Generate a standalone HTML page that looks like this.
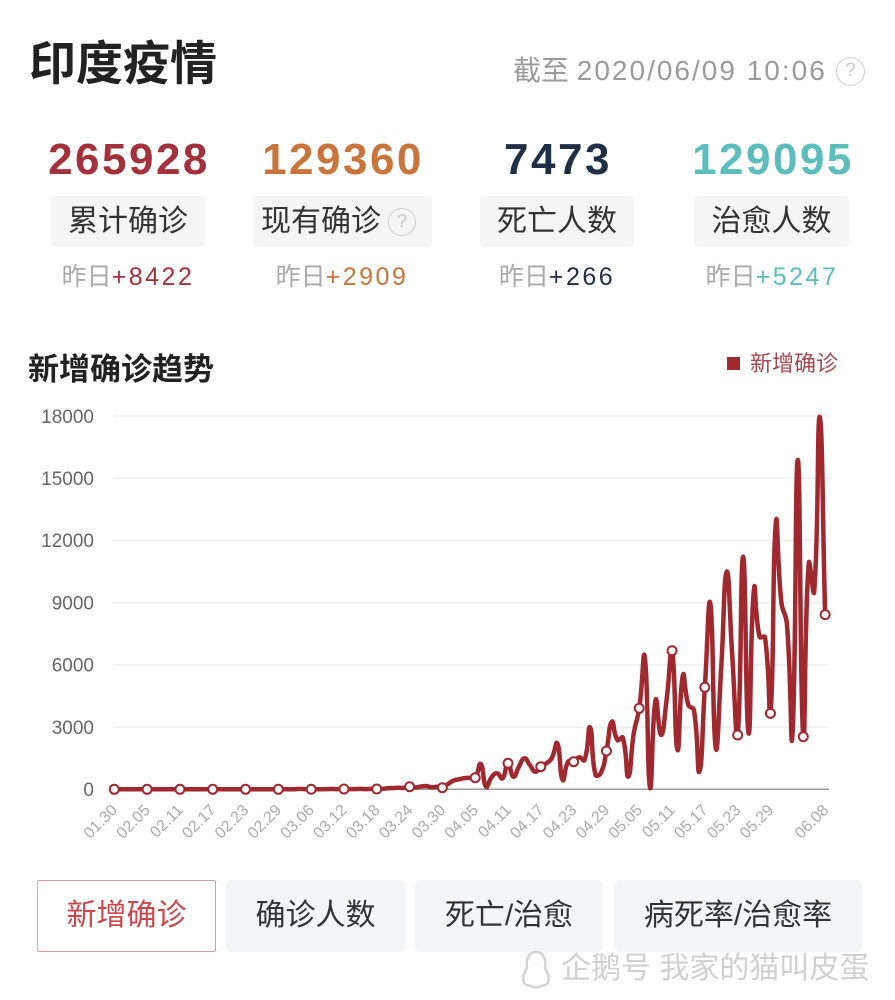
<!DOCTYPE html>
<html><head><meta charset="utf-8">
<style>
html,body{margin:0;padding:0}
body{width:895px;height:1000px;background:#fff;position:relative;overflow:hidden;font-family:"Liberation Sans","Noto Sans CJK SC",sans-serif}
.a{position:absolute;white-space:nowrap}
.num{font-weight:bold;font-size:44px;line-height:50px;top:135px;width:220px;text-align:center;letter-spacing:2.5px;padding-left:2px}
.box{top:196px;height:51px;background:#f5f5f5;border-radius:5px;font-size:30px;line-height:51px;color:#333;text-align:center}
.yd{top:260px;width:220px;text-align:center;font-size:25px;line-height:34px;color:#aaa}
.yd b{font-weight:normal;letter-spacing:2.5px}
.btn{top:880px;height:72px;font-size:30px;line-height:72px;text-align:center;color:#333;background:#f4f5f7;border-radius:6px}
.q{border:1.5px solid #cfcfcf;border-radius:50%;color:#c8c8c8;text-align:center;box-sizing:border-box}
</style></head>
<body>
<div class="a" style="left:29px;top:36px;font-size:47px;line-height:56px;font-weight:bold;color:#222">印度疫情</div>
<div class="a" style="left:513px;top:54px;font-size:28px;line-height:34px;color:#9a9a9a">截至 <span style="letter-spacing:2px">2020/06/09 10:06</span></div>
<div class="a q" style="left:836px;top:57px;width:29px;height:29px;font-size:19px;line-height:26px">?</div>

<div class="a num" style="left:17px;color:#a2313b">265928</div>
<div class="a num" style="left:231px;color:#c8743a">129360</div>
<div class="a num" style="left:446px;color:#1f2f45">7473</div>
<div class="a num" style="left:661px;color:#5cbdbd">129095</div>

<div class="a box" style="left:51px;width:154px">累计确诊</div>
<div class="a box" style="left:253px;width:179px"><span style="position:absolute;left:8px;top:0">现有确诊</span><div class="a q" style="left:135px;top:12px;width:28px;height:28px;font-size:18px;line-height:25px">?</div></div>
<div class="a box" style="left:480px;width:154px">死亡人数</div>
<div class="a box" style="left:694px;width:155px">治愈人数</div>

<div class="a yd" style="left:18px">昨日<b style="color:#a2313b">+8422</b></div>
<div class="a yd" style="left:232px">昨日<b style="color:#c8743a">+2909</b></div>
<div class="a yd" style="left:447px">昨日<b style="color:#1f2f45">+266</b></div>
<div class="a yd" style="left:662px">昨日<b style="color:#5cbdbd">+5247</b></div>

<div class="a" style="left:28px;top:350px;font-size:31px;line-height:40px;font-weight:bold;color:#222">新增确诊趋势</div>

<svg class="a" style="left:0;top:0" width="895" height="860" xmlns="http://www.w3.org/2000/svg">
<rect x="727" y="357" width="13" height="13" fill="#a0292f"/>
<text x="750" y="371" font-size="22" fill="#a5484e" font-family="Liberation Sans, Noto Sans CJK SC, sans-serif">新增确诊</text>
<g stroke="#ededed" stroke-width="1.5">
<line x1="113" y1="416" x2="829" y2="416"/>
<line x1="113" y1="478.2" x2="829" y2="478.2"/>
<line x1="113" y1="540.4" x2="829" y2="540.4"/>
<line x1="113" y1="602.7" x2="829" y2="602.7"/>
<line x1="113" y1="664.9" x2="829" y2="664.9"/>
<line x1="113" y1="727.1" x2="829" y2="727.1"/>
</g>
<line x1="113" y1="789.3" x2="829" y2="789.3" stroke="#9a9a9a" stroke-width="1.5"/>
<g font-size="19" fill="#666" text-anchor="end" font-family="Liberation Sans, sans-serif">
<text x="94" y="422.8">18000</text>
<text x="94" y="485">15000</text>
<text x="94" y="547.2">12000</text>
<text x="94" y="609.5">9000</text>
<text x="94" y="671.7">6000</text>
<text x="94" y="733.9">3000</text>
<text x="94" y="796.1">0</text>
</g>
<g font-size="16" fill="#aaa" text-anchor="end" font-family="Liberation Sans, sans-serif">
<text x="118.3" y="811" transform="rotate(-45 118.3 811)">01.30</text>
<text x="151.1" y="811" transform="rotate(-45 151.1 811)">02.05</text>
<text x="183.9" y="811" transform="rotate(-45 183.9 811)">02.11</text>
<text x="216.7" y="811" transform="rotate(-45 216.7 811)">02.17</text>
<text x="249.5" y="811" transform="rotate(-45 249.5 811)">02.23</text>
<text x="282.3" y="811" transform="rotate(-45 282.3 811)">02.29</text>
<text x="315.1" y="811" transform="rotate(-45 315.1 811)">03.06</text>
<text x="347.9" y="811" transform="rotate(-45 347.9 811)">03.12</text>
<text x="380.8" y="811" transform="rotate(-45 380.8 811)">03.18</text>
<text x="413.6" y="811" transform="rotate(-45 413.6 811)">03.24</text>
<text x="446.4" y="811" transform="rotate(-45 446.4 811)">03.30</text>
<text x="479.2" y="811" transform="rotate(-45 479.2 811)">04.05</text>
<text x="512" y="811" transform="rotate(-45 512 811)">04.11</text>
<text x="544.8" y="811" transform="rotate(-45 544.8 811)">04.17</text>
<text x="577.6" y="811" transform="rotate(-45 577.6 811)">04.23</text>
<text x="610.4" y="811" transform="rotate(-45 610.4 811)">04.29</text>
<text x="643.2" y="811" transform="rotate(-45 643.2 811)">05.05</text>
<text x="676" y="811" transform="rotate(-45 676 811)">05.11</text>
<text x="708.8" y="811" transform="rotate(-45 708.8 811)">05.17</text>
<text x="741.7" y="811" transform="rotate(-45 741.7 811)">05.23</text>
<text x="774.5" y="811" transform="rotate(-45 774.5 811)">05.29</text>
<text x="829.5" y="811" transform="rotate(-45 829.5 811)">06.08</text>
</g>
<path id="ln" d="" fill="none" stroke="#a0292f" stroke-width="4.5" stroke-linejoin="round" stroke-linecap="round"/>
<g id="mk" fill="#fff" stroke="#a0292f" stroke-width="2"></g>
</svg>

<div class="a btn" style="left:37px;width:177px;height:70px;line-height:70px;background:#fff;border:1px solid #dc9c9e;border-radius:2px;color:#c9474d">新增确诊</div>
<div class="a btn" style="left:226px;width:179px">确诊人数</div>
<div class="a btn" style="left:415px;width:188px">死亡/治愈</div>
<div class="a btn" style="left:614px;width:248px">病死率/治愈率</div>

<svg class="a" style="left:519px;top:948px" width="34" height="44" viewBox="0 0 34 44"><path d="M17 4 C9 4 7 12 8 20 C4 26 3 32 6 36 C9 38 12 37 14 39 L20 39 C22 37 25 38 28 36 C31 32 30 26 26 20 C27 12 25 4 17 4 Z" fill="none" stroke="#d3d3d3" stroke-width="2.4"/></svg>
<div class="a" style="left:561px;top:950px;font-size:30px;line-height:38px;color:#d0d0d0">企鹅号 我家的猫叫皮蛋</div>

<script>
(function(){
var v=new Array(33).fill(0).concat([2,22,1,2,3,5,9,15,6,12,11,9,20,8,23,15,21,50,60,75,69,125,90,130,160,100,120,77,250,415,480,540,550,560,1220,125,580,771,530,1253,608,1090,1495,1171,849,1090,1250,1500,2218,448,1331,1331,1543,1413,2990,700,800,1847,3260,2377,2488,608,2700,3905,6393,50,4306,2620,4300,6683,1895,5511,4064,3823,850,4918,8968,1977,5900,10492,6500,2618,11215,2700,9690,7360,7330,3663,12903,9000,8004,2537,15877,2537,10897,9528,17966,8422]);
function X(i){return 114.3+i*5.468;}
function Y(a){return 789.3-a*0.020739;}
var p=v.map(function(a,i){return [X(i),Y(a)];});
var n=p.length,ymin=Y(17966),ymax=789.3;
function cl(y){return Math.max(ymin,Math.min(ymax,y));}
var cin=[],cout=[];
for(var i=0;i<n;i++){
 var pr=p[i-1]||p[i],cu=p[i],nx=p[i+1]||p[i];
 var vx=(nx[0]-pr[0])*0.5,vy=(nx[1]-pr[1])*0.5;
 var d0=Math.hypot(cu[0]-pr[0],cu[1]-pr[1]),d1=Math.hypot(nx[0]-cu[0],nx[1]-cu[1]);
 var s=(d0+d1)||1;
 cin.push([cu[0]-vx*d0/s,cl(cu[1]-vy*d0/s)]);
 cout.push([cu[0]+vx*d1/s,cl(cu[1]+vy*d1/s)]);
}
var d='M'+p[0][0].toFixed(2)+','+p[0][1].toFixed(2);
for(i=0;i<n-1;i++){
 d+=' C'+cout[i][0].toFixed(2)+','+cout[i][1].toFixed(2)+' '+cin[i+1][0].toFixed(2)+','+cin[i+1][1].toFixed(2)+' '+p[i+1][0].toFixed(2)+','+p[i+1][1].toFixed(2);
}
document.getElementById('ln').setAttribute('d',d);
var g=document.getElementById('mk'),h='';
var idx=[];for(i=0;i<=126;i+=6)idx.push(i);idx.push(130);
idx.forEach(function(k){h+='<circle cx="'+p[k][0].toFixed(2)+'" cy="'+p[k][1].toFixed(2)+'" r="4.5"/>';});
g.innerHTML=h;
})();
</script>
</body></html>
